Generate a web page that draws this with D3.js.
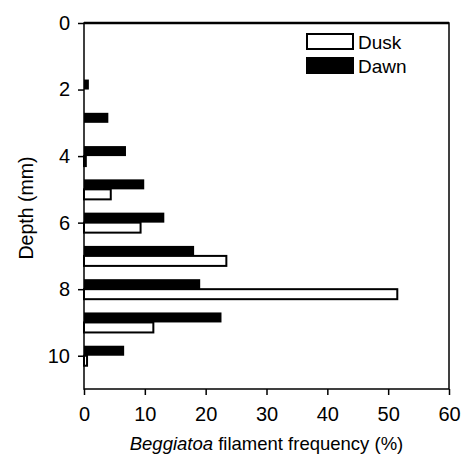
<!DOCTYPE html>
<html>
<head>
<meta charset="utf-8">
<script src="https://cdn.jsdelivr.net/npm/d3@7"></script>
<style>
  body { margin: 0; background: #fff; }
  text { font-family: "Liberation Sans", Arial, sans-serif; fill: #000; }
</style>
</head>
<body>
<div id="chart"></div>
<script>
// Depth categories (mm) and filament frequency (%) for each series
const depths = [1, 2, 3, 4, 5, 6, 7, 8, 9, 10];
const dawn = [0, 0.8, 4.0, 6.9, 9.9, 13.2, 18.1, 19.1, 22.6, 6.6];
const dusk = [0, 0, 0, 0.3, 4.4, 9.3, 23.4, 51.5, 11.4, 0.5];
const seriesNames = ["Dawn", "Dusk"];
const xTicks = [0, 10, 20, 30, 40, 50, 60];
const yTicks = [0, 2, 4, 6, 8, 10];

const width = 461;
const height = 455;
const margin = { top: 23, right: 12, bottom: 66, left: 84 };

const svg = d3.select("#chart").append("svg")
    .attr("width", width)
    .attr("height", height);

const x = d3.scaleLinear()
    .domain([0, 60])
    .range([margin.left, width - margin.right]);

const y = d3.scaleLinear()
    .domain([0, 11])
    .range([margin.top, height - margin.bottom]);

// offset of each series inside a depth group
const inner = d3.scaleBand()
    .domain(seriesNames)
    .range([-10, 10]);

const rows = depths.map((d, i) => ({ depth: d, Dawn: dawn[i], Dusk: dusk[i] }));

// bars
const groups = svg.append("g")
    .selectAll("g")
    .data(rows)
    .enter().append("g")
    .attr("transform", d => `translate(0,${y(d.depth)})`);

groups.selectAll("rect")
    .data(d => seriesNames.map(s => ({ key: s, value: d[s] })).filter(e => e.value > 0))
    .enter().append("rect")
    .attr("x", x(0))
    .attr("y", d => inner(d.key))
    .attr("width", d => x(d.value) - x(0))
    .attr("height", inner.bandwidth())
    .attr("fill", d => d.key === "Dawn" ? "#000" : "#fff")
    .attr("stroke", d => d.key === "Dusk" ? "#000" : "none")
    .attr("stroke-width", 2);

// frame
svg.append("rect")
    .attr("x", x(0))
    .attr("y", y(0))
    .attr("width", x(60) - x(0))
    .attr("height", y(11) - y(0))
    .attr("fill", "none")
    .attr("stroke", "#000")
    .attr("stroke-width", 1.5);
svg.append("line")
    .attr("x1", x(0)).attr("x2", x(60))
    .attr("y1", y(0)).attr("y2", y(0))
    .attr("stroke", "#000")
    .attr("stroke-width", 2.5);

// axes
const xAxis = svg.append("g")
    .attr("transform", `translate(0,${y(11)})`)
    .call(d3.axisBottom(x).tickValues(xTicks).tickSize(6).tickPadding(12));
const yAxis = svg.append("g")
    .attr("transform", `translate(${x(0)},0)`)
    .call(d3.axisLeft(y).tickValues(yTicks).tickSize(6).tickPadding(8));

[xAxis, yAxis].forEach(a => {
    a.select(".domain").remove();
    a.selectAll(".tick line").attr("stroke", "#000").attr("stroke-width", 1.5);
    a.selectAll(".tick text").attr("font-size", 20).attr("font-family", "Liberation Sans, Arial, sans-serif");
});

// axis titles
const xTitle = svg.append("text")
    .attr("x", x(30))
    .attr("y", 450)
    .attr("text-anchor", "middle")
    .attr("font-size", 18.5);
xTitle.append("tspan").attr("font-style", "italic").text("Beggiatoa");
xTitle.append("tspan").text(" filament frequency (%)");

svg.append("text")
    .attr("transform", `translate(33,208) rotate(-90)`)
    .attr("text-anchor", "middle")
    .attr("font-size", 19.5)
    .text("Depth (mm)");

// legend
const legend = svg.append("g")
    .selectAll("g")
    .data(["Dusk", "Dawn"])
    .enter().append("g")
    .attr("transform", (d, i) => `translate(306,${33 + i * 24})`);

legend.append("rect")
    .attr("x", 1)
    .attr("y", 1)
    .attr("width", 46)
    .attr("height", 15)
    .attr("fill", d => d === "Dawn" ? "#000" : "#fff")
    .attr("stroke", "#000")
    .attr("stroke-width", 2);

legend.append("text")
    .attr("x", 52)
    .attr("y", 15.5)
    .attr("font-size", 19)
    .text(d => d);
</script>
</body>
</html>
